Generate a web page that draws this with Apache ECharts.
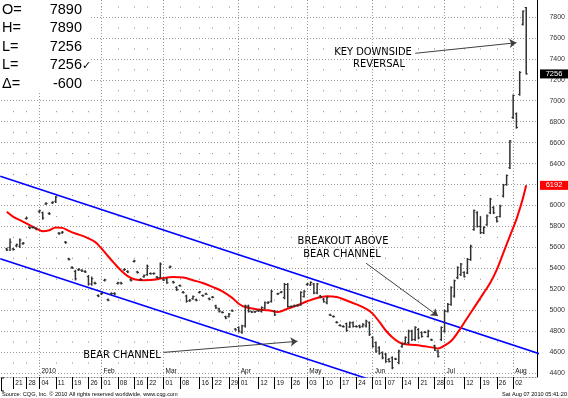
<!DOCTYPE html>
<html>
<head>
<meta charset="utf-8">
<title>Wheat - Key Downside Reversal</title>
<script src="https://cdn.jsdelivr.net/npm/echarts@6/dist/echarts.min.js"></script>
<style>
    html, body { margin: 0; padding: 0; background: #fff; }
    #chart { width: 568px; height: 398px; }
</style>
</head>
<body>
<div id="chart"></div>
<script>
// Trading days on the chart
var dates = [
    '2009-12-17','2009-12-18','2009-12-21','2009-12-22','2009-12-23','2009-12-24','2009-12-28','2009-12-29','2009-12-30','2009-12-31',
    '2010-01-04','2010-01-05','2010-01-06','2010-01-07','2010-01-08','2010-01-11','2010-01-12','2010-01-13','2010-01-14','2010-01-15',
    '2010-01-19','2010-01-20','2010-01-21','2010-01-22','2010-01-25','2010-01-26','2010-01-27','2010-01-28','2010-01-29','2010-02-01',
    '2010-02-02','2010-02-03','2010-02-04','2010-02-05','2010-02-08','2010-02-09','2010-02-10','2010-02-11','2010-02-12','2010-02-16',
    '2010-02-17','2010-02-18','2010-02-19','2010-02-22','2010-02-23','2010-02-24','2010-02-25','2010-02-26','2010-03-01','2010-03-02',
    '2010-03-03','2010-03-04','2010-03-05','2010-03-08','2010-03-09','2010-03-10','2010-03-11','2010-03-12','2010-03-15','2010-03-16',
    '2010-03-17','2010-03-18','2010-03-19','2010-03-22','2010-03-23','2010-03-24','2010-03-25','2010-03-26','2010-03-29','2010-03-30',
    '2010-03-31','2010-04-01','2010-04-05','2010-04-06','2010-04-07','2010-04-08','2010-04-09','2010-04-12','2010-04-13','2010-04-14',
    '2010-04-15','2010-04-16','2010-04-19','2010-04-20','2010-04-21','2010-04-22','2010-04-23','2010-04-26','2010-04-27','2010-04-28',
    '2010-04-29','2010-04-30','2010-05-03','2010-05-04','2010-05-05','2010-05-06','2010-05-07','2010-05-10','2010-05-11','2010-05-12',
    '2010-05-13','2010-05-14','2010-05-17','2010-05-18','2010-05-19','2010-05-20','2010-05-21','2010-05-24','2010-05-25','2010-05-26',
    '2010-05-27','2010-05-28','2010-06-01','2010-06-02','2010-06-03','2010-06-04','2010-06-07','2010-06-08','2010-06-09','2010-06-10',
    '2010-06-11','2010-06-14','2010-06-15','2010-06-16','2010-06-17','2010-06-18','2010-06-21','2010-06-22','2010-06-23','2010-06-24',
    '2010-06-25','2010-06-28','2010-06-29','2010-06-30','2010-07-01','2010-07-02','2010-07-06','2010-07-07','2010-07-08','2010-07-09',
    '2010-07-12','2010-07-13','2010-07-14','2010-07-15','2010-07-16','2010-07-19','2010-07-20','2010-07-21','2010-07-22','2010-07-23',
    '2010-07-26','2010-07-27','2010-07-28','2010-07-29','2010-07-30','2010-08-02','2010-08-03','2010-08-04','2010-08-05','2010-08-06'
];

var opens = [
    5585,5600,5585,5615,5610,5635,5875,5790,5790,5780,
    5940,5930,6015,5925,6025,6040,5735,5740,5650,5490,
    5410,5370,5385,5380,5370,5320,5250,5260,5140,5155,
    5285,5100,5155,5160,5255,5260,5385,5370,5290,5465,
    5365,5295,5320,5340,5350,5350,5315,5310,5290,5300,
    5410,5270,5218,5235,5170,5135,5090,5110,5100,5170,
    5140,5155,5110,5125,5040,5012,4980,4938,4940,4995,
    4820,4835,4790,4850,5040,4985,4985,4995,4990,5020,
    5070,5085,4990,5155,5170,5120,5245,5035,5040,5045,
    5050,5130,5245,5240,5250,5165,5135,5105,5070,4955,
    4940,4885,4855,4845,4870,4840,4880,4845,4850,4845,
    4850,4880,4740,4690,4640,4595,4580,4530,4545,4535,
    4500,4655,4685,4690,4800,4720,4815,4785,4790,4750,
    4718,4660,4610,4720,4800,4990,5055,5135,5310,5340,
    5360,5355,5485,5770,5930,5800,5740,5815,5930,5980,
    5885,5895,6090,6200,6360,6840,6875,7060,7730,7890
];
var highs = [
    5590,5680,5590,5630,5680,5645,5885,5795,5795,5785,
    5955,5935,6025,5930,6035,6085,5740,5750,5655,5495,
    5415,5380,5395,5385,5375,5330,5315,5265,5145,5165,
    5295,5105,5165,5165,5265,5265,5395,5375,5295,5475,
    5370,5300,5335,5430,5355,5355,5320,5450,5295,5305,
    5420,5275,5222,5240,5178,5142,5100,5135,5105,5178,
    5145,5160,5115,5130,5047,5018,4985,4942,4968,5000,
    4823,4840,4856,5047,5047,4990,4990,5000,5030,5078,
    5080,5190,4995,5160,5178,5254,5254,5040,5048,5050,
    5174,5184,5254,5270,5254,5254,5140,5111,5126,4960,
    4945,4890,4860,4850,4875,4887,4887,4850,4856,4870,
    4903,4887,4744,4696,4650,4600,4585,4537,4553,4540,
    4616,4680,4744,4808,4808,4840,4823,4792,4795,4808,
    4722,4664,4616,4840,4999,5063,5222,5286,5413,5445,
    5365,5493,5620,5955,5939,5891,5795,5907,6067,5987,
    5891,6002,6200,6290,6620,7054,6882,7277,7856,7890
];
var lows = [
    5570,5570,5575,5610,5600,5630,5870,5780,5785,5770,
    5935,5870,6010,5915,6020,6030,5725,5735,5640,5480,
    5400,5290,5380,5370,5360,5240,5240,5250,5130,5150,
    5280,5090,5150,5150,5250,5250,5380,5360,5280,5460,
    5355,5285,5315,5335,5345,5345,5310,5305,5285,5257,
    5405,5260,5190,5230,5165,5078,5085,5105,5090,5165,
    5135,5150,5100,5120,5018,4983,4975,4920,4935,4990,
    4810,4792,4780,4840,4983,4980,4980,4990,4983,5015,
    5065,5078,4950,5150,5168,5110,5030,5030,5038,5040,
    5047,5126,5240,5238,5158,5158,5120,5078,5063,4950,
    4935,4880,4850,4840,4800,4836,4840,4840,4833,4840,
    4840,4760,4648,4600,4580,4537,4505,4505,4442,4530,
    4490,4648,4680,4680,4712,4712,4728,4744,4785,4744,
    4712,4616,4553,4712,4792,4983,5047,5126,5302,5333,
    5317,5350,5477,5764,5795,5732,5732,5812,5923,5923,
    5843,5891,6082,6194,6354,6832,6739,7054,7724,7256
];
var closes = [
    5575,5650,5580,5625,5670,5640,5880,5785,5790,5775,
    5950,5880,6020,5920,6030,6080,5730,5745,5645,5485,
    5405,5300,5390,5375,5365,5250,5300,5255,5135,5160,
    5290,5095,5160,5155,5260,5255,5390,5365,5285,5470,
    5360,5290,5330,5420,5348,5352,5312,5440,5288,5262,
    5415,5265,5195,5232,5168,5085,5095,5130,5095,5175,
    5138,5152,5105,5122,5022,4988,4978,4925,4962,4992,
    4812,4800,4850,5040,4990,4982,4988,4992,5025,5072,
    5075,5180,4955,5158,5175,5245,5035,5038,5045,5042,
    5170,5180,5250,5265,5165,5250,5125,5082,5120,4952,
    4938,4882,4852,4842,4805,4880,4845,4842,4838,4865,
    4895,4770,4655,4610,4590,4545,4510,4510,4450,4532,
    4610,4675,4740,4800,4720,4835,4735,4750,4788,4800,
    4715,4620,4560,4835,4990,5055,5215,5280,5405,5440,
    5320,5485,5610,5950,5800,5740,5790,5900,6060,5930,
    5850,5995,6195,6285,6615,7050,6745,7270,7856,7256
];

// Red average line
var maDates = [
    '2009-12-17','2009-12-21','2009-12-23','2009-12-28','2009-12-30',
    '2010-01-04','2010-01-05','2010-01-07','2010-01-11','2010-01-13','2010-01-15','2010-01-20','2010-01-25','2010-01-28',
    '2010-02-01','2010-02-03','2010-02-05','2010-02-09','2010-02-11','2010-02-16','2010-02-19','2010-02-24',
    '2010-03-01','2010-03-04','2010-03-09','2010-03-12','2010-03-17','2010-03-22','2010-03-25','2010-03-30',
    '2010-04-01','2010-04-06','2010-04-12','2010-04-15','2010-04-20','2010-04-23','2010-04-28',
    '2010-05-03','2010-05-06','2010-05-11','2010-05-14','2010-05-19','2010-05-24','2010-05-27',
    '2010-06-01','2010-06-03','2010-06-07','2010-06-09','2010-06-11','2010-06-15','2010-06-18','2010-06-23','2010-06-28','2010-06-29',
    '2010-07-01','2010-07-06','2010-07-08','2010-07-12','2010-07-14','2010-07-16','2010-07-20','2010-07-22','2010-07-26','2010-07-28','2010-07-30',
    '2010-08-03','2010-08-04','2010-08-05','2010-08-06'
];
var maValues = [
    5939,5891,5859,5828,5795,
    5764,5754,5764,5790,5786,5757,5732,5700,5652,
    5589,5515,5445,5378,5325,5296,5286,5290,
    5308,5317,5312,5286,5260,5222,5180,5118,
    5062,5030,5006,4999,4983,5015,5047,
    5085,5117,5133,5125,5093,5056,5013,
    4967,4890,4806,4742,4695,4674,4668,4655,4641,4634,
    4662,4705,4785,4880,4975,5070,5165,5262,5388,5548,5708,
    5868,5965,6070,6192
];

// Bear channel, day index at both plot edges
var channelDays = [-2, 163];
var upperChannel = [6279, 4584];
var lowerChannel = [5492, 3809];

// Axis ticks
var priceTicks = [4400, 4600, 4800, 5000, 5200, 5400, 5600, 5800, 6000, 6200, 6400, 6600, 6800, 7000, 7200, 7400, 7600, 7800];
var weekTickDates = ['2009-12-21','2009-12-28','2010-01-04','2010-01-11','2010-01-19','2010-01-26','2010-02-01','2010-02-08','2010-02-16','2010-02-22',
    '2010-03-01','2010-03-08','2010-03-16','2010-03-22','2010-03-29','2010-04-01','2010-04-12','2010-04-19','2010-04-26','2010-05-03',
    '2010-05-10','2010-05-17','2010-05-24','2010-06-01','2010-06-07','2010-06-14','2010-06-21','2010-06-28','2010-07-01','2010-07-12',
    '2010-07-19','2010-07-26','2010-08-02'];
var weekTickLabels = ['21','28','04','11','19','26','01','08','16','22',
    '01','08','16','22','29','01','12','19','26','03',
    '10','17','24','01','07','14','21','28','01','12',
    '19','26','02'];
var monthTickDates = ['2010-01-04','2010-02-01','2010-03-01','2010-04-01','2010-05-03','2010-06-01','2010-07-01','2010-08-02'];
var monthTickLabels = ['2010','Feb','Mar','Apr','May','Jun','Jul','Aug'];

// Annotations: arrow tail and head as [date, price]
var arrowTails = [['2010-03-01', 4597], ['2010-05-27', 5448], ['2010-06-18', 7453]];
var arrowHeads = [['2010-04-28', 4703], ['2010-06-29', 4945], ['2010-08-03', 7554]];

var FONT = '"Liberation Sans", Arial, sans-serif';
var NOTE_FONT = '"DejaVu Sans Condensed", "Liberation Sans Narrow", "DejaVu Sans", sans-serif';

var weekTickIdx = weekTickDates.map(function (d) { return dates.indexOf(d); });
var monthTickIdx = monthTickDates.map(function (d) { return dates.indexOf(d); });

//OHLC bar drawn through the axes
function renderBar(params, api) {
    var x = api.value(0);
    var pOpen = api.coord([x, api.value(1)]);
    var pHigh = api.coord([x, api.value(2)]);
    var pLow = api.coord([x, api.value(3)]);
    var pClose = api.coord([x, api.value(4)]);
    var style = { stroke: '#303030', lineWidth: 1.5 };
    var tick = { stroke: '#303030', lineWidth: 1 };
    return {
        type: 'group',
        children: [
            { type: 'line', shape: { x1: pHigh[0], y1: pHigh[1] - 0.6, x2: pLow[0], y2: pLow[1] + 0.6 }, style: style },
            { type: 'line', shape: { x1: pOpen[0] - 1.6, y1: pOpen[1], x2: pOpen[0], y2: pOpen[1] }, style: tick },
            { type: 'line', shape: { x1: pClose[0], y1: pClose[1], x2: pClose[0] + 1.6, y2: pClose[1] }, style: tick }
        ]
    };
}

var barData = dates.map(function (d, i) {
    return [i, opens[i], highs[i], lows[i], closes[i]];
});
var maData = maDates.map(function (d, k) {
    return [dates.indexOf(d), maValues[k]];
});
var arrowData = arrowTails.map(function (t, k) {
    return { coords: [[dates.indexOf(t[0]), t[1]], [dates.indexOf(arrowHeads[k][0]), arrowHeads[k][1]]] };
});

var chart = echarts.init(document.getElementById('chart'), null, { renderer: 'canvas' });

var option = {
    animation: false,
    backgroundColor: '#fff',
    grid: { left: 1, right: 29, top: 0, bottom: 21 },
    xAxis: [{
        type: 'value',
        min: -1.77,
        max: 162.3,
        position: 'bottom',
        axisLine: { show: true, onZero: false, lineStyle: { color: '#888', type: [1, 2], width: 1 } },
        axisTick: { show: true, customValues: weekTickIdx, length: 12, lineStyle: { color: '#000', width: 1 } },
        axisLabel: {
            customValues: weekTickIdx,
            formatter: function (value) {
                var k = weekTickIdx.indexOf(value);
                return k >= 0 ? weekTickLabels[k] : '';
            },
            align: 'left', padding: [0, 0, 0, 2], margin: 3,
            fontSize: 6.5, fontFamily: FONT, color: '#111'
        },
        splitLine: { show: true, lineStyle: { color: '#8a8a8a', width: 1, type: [1, 19.94], dashOffset: 14.44 } }
    }, {
        type: 'value',
        min: -1.77,
        max: 162.3,
        position: 'bottom',
        axisLine: { show: false, onZero: false },
        axisTick: { show: false, customValues: monthTickIdx },
        axisLabel: {
            inside: true,
            customValues: monthTickIdx,
            formatter: function (value) {
                var k = monthTickIdx.indexOf(value);
                return k >= 0 ? monthTickLabels[k] : '';
            },
            align: 'left', padding: [0, 0, 0, 2], margin: 2,
            fontSize: 6.5, fontFamily: FONT, color: '#111'
        },
        splitLine: { show: true, lineStyle: { color: '#999', width: 1, type: [1, 2] } }
    }],
    yAxis: {
        type: 'value',
        position: 'right',
        min: 4362,
        max: 7962,
        axisLine: { show: true, onZero: false, lineStyle: { color: '#000', width: 1 } },
        axisTick: { show: false, customValues: priceTicks },
        axisLabel: {
            customValues: priceTicks,
            formatter: function (value) { return String(value); },
            align: 'right', margin: 28,
            fontSize: 7, fontFamily: FONT, color: '#333'
        },
        splitLine: { show: true, lineStyle: { color: '#999', width: 1, type: [1, 2] } }
    },
    series: [{
        name: 'Upper channel',
        type: 'line',
        data: [[channelDays[0], upperChannel[0]], [channelDays[1], upperChannel[1]]],
        symbol: 'none',
        lineStyle: { color: '#0000ff', width: 1.6 },
        z: 3
    }, {
        name: 'Lower channel',
        type: 'line',
        data: [[channelDays[0], lowerChannel[0]], [channelDays[1], lowerChannel[1]]],
        symbol: 'none',
        lineStyle: { color: '#0000ff', width: 1.6 },
        z: 3
    }, {
        name: 'Average',
        type: 'line',
        data: maData,
        smooth: 0.35,
        symbol: 'none',
        lineStyle: { color: '#ff0000', width: 2 },
        z: 4
    }, {
        name: 'Bars',
        type: 'custom',
        renderItem: renderBar,
        data: barData,
        encode: { x: 0, y: [1, 2, 3, 4] },
        z: 5
    }, {
        name: 'Arrows',
        type: 'lines',
        coordinateSystem: 'cartesian2d',
        symbol: ['none', 'arrow'],
        symbolSize: 7,
        lineStyle: { color: '#404040', width: 1, opacity: 1 },
        data: arrowData,
        z: 6
    }]
};

chart.setOption(option);

// Header box, value tags and notes
var last = closes.length - 1;
var lastClose = closes[last];
var lastMa = maValues[maValues.length - 1];
var yClose = chart.convertToPixel({ yAxisIndex: 0 }, lastClose);
var yMa = chart.convertToPixel({ yAxisIndex: 0 }, lastMa);

var header = [
    ['O=', String(opens[last])],
    ['H=', String(highs[last])],
    ['L=', String(lows[last])],
    ['L=', String(closes[last])],
    ['\u0394=', String(closes[last] - closes[last - 1])]
];

var graphics = [{
    type: 'rect', left: 0, top: 0, z: 50,
    shape: { width: 91, height: 92 },
    style: { fill: '#fff' }
}];
header.forEach(function (row, k) {
    var y = 10 + k * 18.4;
    graphics.push({ type: 'text', x: 2, y: y, z: 51,
        style: { text: row[0], fontSize: 14.5, fontFamily: FONT, fill: '#000', align: 'left', verticalAlign: 'middle' } });
    graphics.push({ type: 'text', x: 82, y: y, z: 51,
        style: { text: row[1], fontSize: 14.5, fontFamily: FONT, fill: '#000', align: 'right', verticalAlign: 'middle' } });
});
graphics.push({ type: 'text', x: 82, y: 10 + 3 * 18.4 + 1, z: 51,
    style: { text: '\u2713', fontSize: 11, fontFamily: '"DejaVu Sans", sans-serif', fill: '#000', align: 'left', verticalAlign: 'middle' } });

// value tags on the price scale
graphics.push({ type: 'rect', x: 540, y: yClose - 4.5, z: 60, shape: { width: 28, height: 9 }, style: { fill: '#000' } });
graphics.push({ type: 'text', x: 554, y: yClose, z: 61,
    style: { text: String(lastClose), fontSize: 7.5, fontFamily: FONT, fill: '#fff', align: 'center', verticalAlign: 'middle' } });
graphics.push({ type: 'rect', x: 540, y: yMa - 4.5, z: 60, shape: { width: 28, height: 9 }, style: { fill: '#ff0000' } });
graphics.push({ type: 'text', x: 554, y: yMa, z: 61,
    style: { text: String(lastMa), fontSize: 7.5, fontFamily: FONT, fill: '#fff', align: 'center', verticalAlign: 'middle' } });

// notes
var notes = [
    ['KEY DOWNSIDE', 373, 52],
    ['REVERSAL', 379, 64],
    ['BREAKOUT ABOVE', 343, 241],
    ['BEAR CHANNEL', 342, 254],
    ['BEAR CHANNEL', 122, 355]
];
notes.forEach(function (n) {
    graphics.push({ type: 'text', x: n[1], y: n[2], z: 40,
        style: { text: n[0], fontSize: 11, fontFamily: NOTE_FONT, fill: '#000', align: 'center', verticalAlign: 'middle' } });
});

// date row bracket and footer
graphics.push({ type: 'polyline', z: 40, shape: { points: [[4, 378], [1.5, 378], [1.5, 391], [4, 391]] },
    style: { stroke: '#000', lineWidth: 1, fill: null } });
graphics.push({ type: 'text', x: 2, y: 394, z: 40,
    style: { text: 'Source: CQG, Inc. \u00a9 2010 All rights reserved worldwide. www.cqg.com', fontSize: 5.6, fontFamily: FONT, fill: '#000', align: 'left', verticalAlign: 'middle' } });
graphics.push({ type: 'text', x: 567, y: 394, z: 40,
    style: { text: 'Sat Aug 07 2010 05:41:20', fontSize: 5.6, fontFamily: FONT, fill: '#000', align: 'right', verticalAlign: 'middle' } });

chart.setOption({ graphic: graphics });
</script>
</body>
</html>
